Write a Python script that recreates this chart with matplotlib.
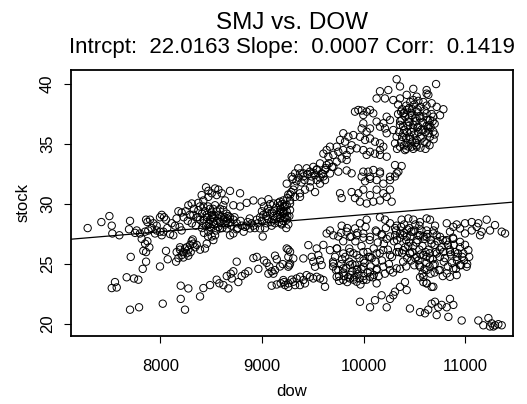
import numpy as np
import matplotlib
matplotlib.use("Agg")
import matplotlib.pyplot as plt

plt.rcParams['font.family'] = ['Liberation Sans', 'DejaVu Sans']

# (dow, stock) pairs, grouped by region
early = [(7285, 28.0), (7420, 28.5), (7499, 29.0), (7522, 28.2), (7528, 27.55), (7597, 27.4),
         (7702, 28.6), (7692, 27.9), (7751, 27.6), (7768, 27.8), (7709, 25.6), (7892, 26.4),
         (7860, 26.0), (7833, 26.1), (7860, 25.2), (7827, 24.6), (7669, 23.9), (7741, 23.8),
         (7784, 23.7), (7554, 23.5), (7522, 23.0), (7571, 23.05), (7702, 21.2), (7791, 21.4),
         (8024, 21.7), (7997, 24.8), (8056, 26.1), (8073, 25.4), (8155, 25.2), (8201, 23.2),
         (8276, 22.97), (8201, 22.1), (8243, 21.2), (8391, 22.3)]

upper_left = [(7800, 27.55), (7817, 27.1), (7850, 26.7), (7873, 26.9), (7860, 28.7), (7873, 28.5),
              (7899, 28.7), (7932, 28.4), (7964, 28.2), (7997, 28.9), (8014, 29.1), (8037, 28.9),
              (8056, 28.7), (8112, 28.4), (8145, 28.2), (7882, 27.8), (7915, 28.0), (7964, 27.8),
              (8014, 27.4), (8030, 27.7), (8096, 27.5), (8128, 27.4), (7997, 27.7), (7850, 27.7),
              (7948, 27.55), (8069, 28.0)]

rising = [(8161, 26.0), (8194, 26.2), (8210, 25.75), (8227, 26.0), (8243, 26.3), (8260, 26.4),
          (8276, 26.2), (8293, 26.6), (8309, 26.9), (8325, 26.7), (8342, 26.4), (8299, 26.0),
          (8227, 25.55), (8276, 25.7), (8178, 25.5), (8260, 25.9), (8319, 27.05), (8358, 26.6),
          (8391, 26.2), (8440, 26.3), (8457, 26.7), (8194, 26.4)]

mid_band = [(8178, 29.4), (8210, 29.3), (8276, 29.9), (8309, 30.05), (8375, 30.1), (8407, 30.75),
            (8450, 31.4), (8473, 31.1), (8506, 30.9), (8539, 31.3), (8572, 31.2), (8604, 30.9),
            (8686, 31.1), (8785, 30.9), (8424, 30.3), (8473, 30.6), (8555, 30.75), (8637, 30.3),
            (8719, 29.9), (8785, 29.8), (8850, 30.1), (8916, 30.3), (8998, 30.2), (9064, 30.4),
            (9113, 30.05), (9178, 29.9), (9277, 30.05), (8325, 29.1), (8358, 28.9), (8391, 28.7),
            (8457, 29.1), (8506, 28.9), (8555, 29.4), (8588, 29.6), (8621, 29.5), (8654, 29.2),
            (8686, 28.9), (8719, 28.7), (8752, 28.4), (8801, 28.2), (8834, 28.1), (8883, 27.97),
            (8916, 28.2), (8949, 28.7), (8982, 28.9), (9014, 29.1), (9047, 29.3), (9080, 29.2),
            (9113, 29.0), (9146, 28.9), (9178, 29.2), (9211, 29.3), (9244, 29.4), (9277, 29.5),
            (8489, 28.1), (8473, 27.7), (8506, 27.3), (8522, 27.0), (8539, 27.4), (8588, 27.97),
            (8654, 27.97), (8686, 27.4), (8719, 27.55), (8752, 27.9), (8850, 28.2), (8900, 28.4),
            (8982, 27.97), (9008, 27.3), (9047, 28.4), (9096, 28.2), (9129, 28.4), (9195, 28.3),
            (9244, 28.7), (8424, 28.4), (8522, 28.5), (8572, 28.8), (8621, 28.7), (8670, 28.4),
            (8375, 29.5), (8424, 29.8), (8539, 29.9), (8489, 29.6),
            (8440, 29.4), (8470, 29.8), (8500, 29.3), (8520, 29.6), (8540, 29.0), (8560, 28.6),
            (8580, 29.1), (8600, 28.9), (8620, 29.9), (8480, 28.4), (8500, 28.0), (8520, 28.8),
            (8460, 28.9), (8410, 29.2), (8430, 28.7), (8640, 28.3), (8660, 28.8),
            (8700, 28.2), (8730, 28.9), (8760, 28.0), (8790, 28.6), (8820, 27.7), (8860, 28.5),
            (8880, 28.8), (8930, 28.0), (8960, 28.4), (9000, 28.6), (9030, 28.0), (9060, 28.8),
            (9090, 28.5), (9120, 29.4), (9150, 29.1), (9180, 28.8), (9220, 28.9), (9250, 29.0),
            (8230, 28.9), (8250, 29.4), (8270, 28.6), (8290, 29.1), (8310, 28.4), (8330, 29.6),
            (8350, 28.2), (8370, 28.9), (8390, 29.8), (8410, 28.0), (8430, 27.6), (8450, 28.2),
            (8470, 27.3), (8490, 28.7), (8510, 29.1), (8530, 28.3), (8550, 27.8), (8570, 28.1),
            (8590, 28.5), (8610, 28.0), (8630, 28.9), (8650, 28.6), (8670, 29.0), (8690, 28.5),
            (8160, 28.8), (8190, 28.1), (8210, 27.8), (9000, 29.4), (9020, 29.8), (9040, 29.0),
            (9060, 29.6), (9080, 30.0), (9100, 29.3), (9120, 28.7), (9140, 29.7), (9160, 30.1),
            (9170, 28.5), (9190, 29.3), (9210, 30.3), (9230, 29.8), (9250, 30.5), (9270, 29.0),
            (9280, 30.8), (9260, 28.3), (9240, 28.0)]

low_band = [(8424, 23.0), (8489, 23.25), (8555, 23.7), (8581, 23.4), (8621, 23.25), (8670, 22.97),
            (8654, 24.0), (8693, 24.2), (8719, 24.4), (8703, 23.8), (8768, 23.5), (8801, 24.0),
            (8834, 24.2), (8867, 24.4), (8752, 25.2), (8916, 25.5), (8949, 25.6), (8965, 24.6),
            (9021, 25.3), (9047, 25.1), (9073, 24.8), (9096, 24.4), (9064, 24.2), (9129, 25.7),
            (9146, 25.4), (9178, 24.8), (9205, 25.0), (9129, 24.5), (9113, 24.2), (9260, 26.2),
            (9270, 24.9), (9096, 23.2), (9146, 23.3), (9185, 23.4), (9218, 23.5), (9260, 23.1),
            (9293, 23.7)]

climb = [(9303, 32.1), (9375, 32.55), (9408, 32.3), (9490, 32.3), (9539, 32.0), (9605, 32.3),
         (9670, 32.55), (9752, 32.7), (9834, 32.8), (9244, 31.7), (9309, 31.2), (9375, 30.9),
         (9424, 31.2), (9473, 31.4), (9523, 31.0), (9572, 31.7), (9621, 32.0), (9178, 30.2),
         (9211, 29.8), (9244, 29.9), (9277, 30.3), (9326, 30.6), (9375, 30.6), (9211, 29.2),
         (9194, 28.4), (9178, 29.5), (9769, 30.9), (9785, 30.5), (9883, 31.0), (9949, 30.9),
         (9998, 31.2), (9916, 30.5), (9965, 30.2), (10031, 30.05), (10096, 30.2), (10162, 30.3),
         (10228, 30.6), (10277, 30.2), (10195, 30.9), (10261, 31.2), (10129, 31.2), (10064, 30.75),
         (10015, 31.9), (10064, 32.1), (10129, 32.0), (10195, 31.7), (10261, 32.0), (10310, 32.3),
         (10343, 32.7), (10047, 32.7), (10162, 32.55),
         (9260, 30.8), (9290, 31.0), (9320, 31.5), (9340, 31.9), (9360, 32.2), (9390, 31.8),
         (9420, 32.0), (9450, 32.5), (9480, 31.9), (9510, 32.6), (9540, 32.9), (9570, 32.2),
         (9600, 32.5), (9630, 33.0), (9660, 33.4), (9690, 33.1),
         (9190, 29.6), (9200, 30.0), (9220, 29.4), (9230, 28.9), (9210, 28.6)]

peak = [(10326, 40.4), (10714, 40.0), (10490, 39.6), (10621, 39.5), (10621, 39.2), (10638, 39.1),
        (10162, 39.4), (10244, 39.5), (10359, 39.8), (10425, 39.1), (10523, 38.95), (10129, 38.8),
        (10211, 38.8), (10293, 38.67), (10359, 38.8), (10490, 38.67), (10589, 38.5), (10671, 38.4),
        (10720, 38.1), (10786, 37.9), (10753, 37.4), (10687, 37.28), (9916, 37.7), (9949, 37.84),
        (9982, 37.8), (10031, 37.7), (10064, 37.84), (10096, 37.56), (9998, 37.42),
        (10228, 37.28), (10261, 37.0), (10195, 36.73), (10162, 36.45), (10129, 36.87), (10228, 35.9),
        (10293, 36.17), (10359, 36.6), (10392, 37.56), (10425, 37.84), (10474, 37.42), (10523, 37.7),
        (10556, 37.14), (10621, 37.56), (10654, 37.0), (10375, 37.0), (10441, 36.87), (10490, 36.6),
        (10539, 36.45), (10589, 36.17), (10638, 36.3), (10687, 36.03), (10326, 35.61), (10392, 35.9),
        (10457, 35.61), (10523, 35.34), (10572, 35.47), (10621, 35.06), (10654, 35.61), (10425, 35.06),
        (10359, 34.78), (10474, 34.78), (10523, 34.78), (10408, 34.5), (10310, 35.06),
        (10340, 37.5), (10360, 36.9), (10400, 36.2), (10420, 35.5), (10450, 37.2), (10470, 36.0),
        (10500, 35.8), (10510, 37.2), (10540, 36.0), (10560, 35.6), (10580, 36.8), (10600, 37.8),
        (10620, 36.5), (10640, 35.9), (10660, 36.4), (10670, 37.5), (10690, 35.4), (10700, 36.7),
        (10520, 34.9), (10480, 35.2), (10440, 34.8), (10400, 34.9), (10380, 35.6), (10350, 36.0),
        (10330, 34.6), (10560, 38.1), (10500, 38.3), (10450, 38.0), (10600, 35.2), (10650, 34.9),
        (10610, 34.6), (10440, 36.5), (10530, 36.4), (10470, 37.6), (10380, 37.9), (10420, 38.2),
        (10340, 38.3), (10370, 37.7), (10390, 36.5), (10410, 37.3), (10430, 36.0), (10450, 36.8),
        (10460, 35.4), (10480, 37.9), (10490, 36.3), (10510, 35.1), (10520, 36.9), (10530, 37.9),
        (10550, 37.3), (10570, 36.2), (10590, 37.3), (10610, 36.0), (10630, 37.0), (10650, 36.6),
        (10680, 36.9), (10700, 35.8), (10560, 34.7), (10490, 34.6), (10420, 34.6), (10370, 35.2),
        (10400, 37.6), (10460, 38.5), (10540, 38.6), (10620, 38.2)]

shoulder = [(9801, 35.9), (9851, 35.61), (9900, 35.75), (9965, 35.61), (10015, 35.34), (10064, 35.47),
            (10113, 35.2), (10162, 35.06), (10162, 34.5), (10162, 34.1), (10195, 34.78), (9998, 36.73),
            (9982, 36.3), (10031, 36.03), (10064, 36.3), (10211, 36.3), (9769, 35.34), (9818, 35.2),
            (9883, 34.9), (9933, 34.64), (9736, 34.78), (9670, 34.78), (9637, 34.5), (9605, 34.2),
            (9654, 33.95), (9703, 34.1), (9752, 34.36), (9801, 34.5), (9834, 34.1), (9785, 33.8),
            (9736, 33.53), (9703, 33.1), (9637, 33.25), (9572, 33.39), (9621, 32.84), (9588, 32.56),
            (9539, 32.84), (9506, 33.1), (9523, 32.42), (9473, 32.7), (9440, 32.98), (9408, 32.56),
            (9358, 32.98), (9326, 32.56), (9293, 32.28), (9834, 33.67), (9867, 34.5), (9998, 34.5),
            (10064, 34.36), (10113, 34.2), (10031, 34.1), (10228, 33.95), (10310, 33.25), (10375, 33.17),
            (10097, 32.84), (10162, 32.7), (10326, 32.56), (10261, 32.28), (9998, 32.7), (9982, 32.28),
            (10064, 32.28), (9883, 32.56)]

mass = [(10819, 28.4), (10917, 28.3), (10999, 28.4), (11065, 28.5), (11130, 28.4), (11212, 28.7),
        (11294, 28.25), (11360, 27.7), (11393, 27.55), (11245, 27.8), (11163, 27.7), (11065, 27.8),
        (11114, 28.1), (10950, 27.97), (10884, 28.1), (10851, 27.7), (10999, 27.55), (11147, 27.4),
        (9965, 28.4), (10031, 28.7), (10162, 28.9), (10211, 28.7), (10261, 28.4), (10326, 28.2),
        (10375, 28.7), (10441, 28.8), (10490, 28.7), (10556, 28.5), (10621, 28.8), (10654, 28.7),
        (10704, 28.2), (9916, 27.97), (9834, 27.7), (9785, 28.2), (9670, 27.8), (9637, 27.55),
        (9703, 27.4), (9752, 27.3),
        (9867, 27.27), (9933, 27.4), (9998, 27.55), (10064, 27.27), (10129, 27.7), (10178, 27.4),
        (10228, 27.1), (10310, 27.4), (10359, 27.55), (10425, 27.27), (10490, 27.7), (10556, 27.4),
        (10621, 27.27), (10687, 27.55), (10753, 27.27), (10819, 27.0), (10884, 27.1), (10950, 26.85),
        (10999, 26.6),
        (9605, 26.6), (9670, 26.16), (9736, 26.3), (9801, 25.88), (9867, 26.0), (9933, 25.75),
        (9998, 26.0), (10064, 25.6), (10129, 25.88), (10195, 26.16), (10261, 25.75), (10326, 26.0),
        (10392, 26.16), (10457, 25.88), (10523, 25.6), (10589, 25.75), (10654, 25.47), (10720, 25.88),
        (10786, 26.0), (10851, 26.0), (10917, 25.6), (10983, 25.88), (11032, 26.16),
        (9703, 25.05), (9752, 24.5), (9801, 24.64), (9867, 24.92), (9933, 24.5), (9998, 24.78),
        (10064, 24.36), (10129, 24.5), (10195, 24.78), (10261, 24.5), (10326, 24.64), (10556, 24.78),
        (10621, 24.5), (10687, 24.92), (10753, 24.5), (10819, 24.22), (10884, 24.64), (10950, 24.92),
        (11015, 24.78),
        (9736, 23.94), (9801, 23.67), (9867, 23.8), (9933, 23.53), (9998, 23.67), (10064, 23.94),
        (10129, 23.39), (10589, 23.94), (10621, 23.39), (10687, 23.11), (10851, 23.94), (10917, 24.08),
        (10400, 27.6), (10420, 27.0), (10440, 26.5), (10460, 27.3), (10480, 26.0), (10500, 27.8),
        (10520, 26.8), (10540, 27.4), (10560, 25.8), (10580, 26.5), (10600, 27.1), (10620, 25.6),
        (10640, 26.2), (10660, 27.0), (10680, 25.4), (10700, 26.6), (10720, 27.4), (10430, 25.5),
        (10470, 25.3), (10510, 25.5), (10550, 24.9), (10600, 24.6), (10650, 24.8), (10700, 25.0),
        (10750, 26.2), (10780, 27.0), (10800, 25.5), (10830, 26.6), (10860, 25.8), (10880, 27.2),
        (10900, 26.0), (10920, 25.3), (10950, 26.4), (10970, 25.6), (10400, 28.3), (10450, 28.0),
        (10550, 28.2), (10620, 27.8), (10360, 27.2), (10340, 26.4), (10380, 25.9), (10320, 27.8),
        (10300, 26.9), (10280, 25.6), (10260, 27.3), (10240, 26.2), (10220, 28.0), (10200, 26.7),
        (10180, 27.5), (10160, 25.9), (10140, 26.8), (10120, 27.8), (10100, 26.3), (10080, 25.5),
        (10060, 27.0), (10040, 26.0), (10020, 28.1), (10000, 27.2), (9980, 26.5), (9960, 25.5),
        (9940, 27.6), (9920, 26.9), (9900, 25.9), (9880, 27.3), (9860, 26.3), (9840, 28.0),
        (9820, 25.6), (9800, 26.9), (9780, 27.6),
        (9780, 25.0), (9800, 24.3), (9830, 24.7), (9860, 25.2), (9890, 24.4), (9920, 24.9),
        (9950, 24.2), (9980, 24.6), (10010, 25.1), (10040, 24.3), (10070, 24.8), (10100, 24.1),
        (10130, 24.6), (9760, 24.0), (9850, 23.9), (9900, 23.7), (9960, 23.8), (10000, 24.0),
        (9720, 25.6), (9740, 26.3), (9700, 24.8),
        (10310, 28.0), (10330, 27.0), (10350, 26.0), (10370, 28.1), (10390, 27.4), (10410, 26.4),
        (10430, 27.9), (10450, 26.8), (10470, 27.7), (10490, 26.5), (10510, 28.3), (10530, 27.0),
        (10550, 26.2), (10570, 27.8), (10590, 27.3), (10610, 26.0), (10630, 27.5), (10650, 25.9),
        (10670, 26.7), (10690, 27.8), (10710, 26.0), (10730, 26.9), (10750, 25.6), (10770, 26.4),
        (10790, 25.2), (10810, 26.9), (10830, 24.8), (10850, 26.2), (10870, 25.1), (10890, 26.6),
        (10910, 24.6), (10930, 25.9), (10960, 24.9), (10990, 25.3), (11020, 25.0), (11040, 25.6),
        (10740, 24.5), (10780, 24.0), (10700, 24.3), (10660, 24.2), (10620, 25.1), (10580, 24.2),
        (10540, 25.3), (10500, 24.9), (10460, 25.9), (10420, 24.8), (10390, 25.2), (10360, 24.6),
        (9700, 25.2), (9730, 24.5), (9760, 23.6), (9790, 25.4), (9810, 24.0), (9840, 23.5),
        (9870, 24.1), (9890, 25.0), (9910, 23.9), (9940, 24.6), (9970, 23.3), (10000, 25.3),
        (10030, 23.7), (10050, 25.6), (10090, 23.9), (10120, 25.2), (10150, 24.0), (10180, 25.3),
        (10210, 24.2), (10250, 25.0), (10290, 24.3)]

mass_left = [(9244, 26.3), (9277, 26.03), (9260, 25.6), (9309, 25.47), (9277, 25.05), (9260, 24.78),
             (9408, 25.47), (9457, 26.58), (9490, 25.6), (9506, 25.2), (9523, 24.78), (9539, 26.3),
             (9555, 25.75), (9572, 25.33), (9588, 24.92),
             (9211, 23.67), (9260, 23.39), (9309, 23.53), (9342, 23.8), (9375, 23.94), (9408, 23.67),
             (9440, 24.08), (9473, 23.94), (9506, 23.8), (9539, 23.94), (9572, 23.8), (9605, 23.67),
             (9621, 23.11), (9375, 23.25), (9326, 23.25), (9227, 23.25), (9424, 23.39)]

tail = [(9965, 21.86), (10064, 21.4), (10113, 21.99), (10178, 22.4), (10228, 21.4), (10261, 22.1),
        (10293, 22.4), (10310, 22.7), (10359, 23.1), (10408, 23.5), (10425, 22.83), (10457, 21.3),
        (10556, 21.0), (10605, 20.9), (10637, 21.2), (10670, 21.7), (10703, 21.86), (10736, 21.4),
        (10769, 21.6), (10819, 21.4), (10851, 22.1), (10884, 21.6), (10835, 20.6), (10720, 20.75),
        (10966, 20.3), (11130, 20.3), (11179, 19.9), (11229, 20.5), (11261, 20.06), (11294, 19.9),
        (11327, 19.99), (11360, 19.9), (11278, 19.8), (11245, 19.8),
        (10556, 23.9), (10621, 23.4), (10670, 23.1), (10589, 23.5)]

intercept = 22.0163
slope = 0.00071
subtitle = "Intrcpt:  22.0163 Slope:  0.0007 Corr:  0.1419"

groups = [early, upper_left, rising, mid_band, low_band, climb, peak, shoulder, mass, mass_left, tail]
pts = np.array([p for g in groups for p in g], dtype=float)
dow = pts[:, 0]
stock = pts[:, 1]

fig = plt.figure(figsize=(5.27, 4.04), dpi=100)
ax = fig.add_axes([0.1347, 0.169, 0.8387, 0.6577])
ax.scatter(dow, stock, s=28, facecolors='none', edgecolors='black', linewidths=0.7)

xlim = (7121, 11471)
ax.set_xlim(xlim)
ax.set_ylim(19.03, 41.17)
xx = np.array(xlim)
ax.plot(xx, intercept + slope * xx, color='black', lw=0.9)

ax.set_xticks([8000, 9000, 10000, 11000])
ax.set_yticks([20, 25, 30, 35, 40])
ax.set_yticklabels(['20', '25', '30', '35', '40'], rotation=90, va='center')
ax.tick_params(direction='out', length=5, width=0.8, labelsize=12)
ax.tick_params(axis='x', pad=12)
ax.tick_params(axis='y', pad=6.5)
for s in ax.spines.values():
    s.set_linewidth(1.3)

ax.set_xlabel('dow', fontsize=12, labelpad=7)
ax.set_ylabel('stock', fontsize=12, labelpad=7)
fig.text(0.554, 0.928, 'SMJ vs. DOW', ha='center', va='baseline', fontsize=17.5)
fig.text(0.554, 0.869, subtitle, ha='center', va='baseline', fontsize=16)

fig.savefig('out.png', dpi=100)
